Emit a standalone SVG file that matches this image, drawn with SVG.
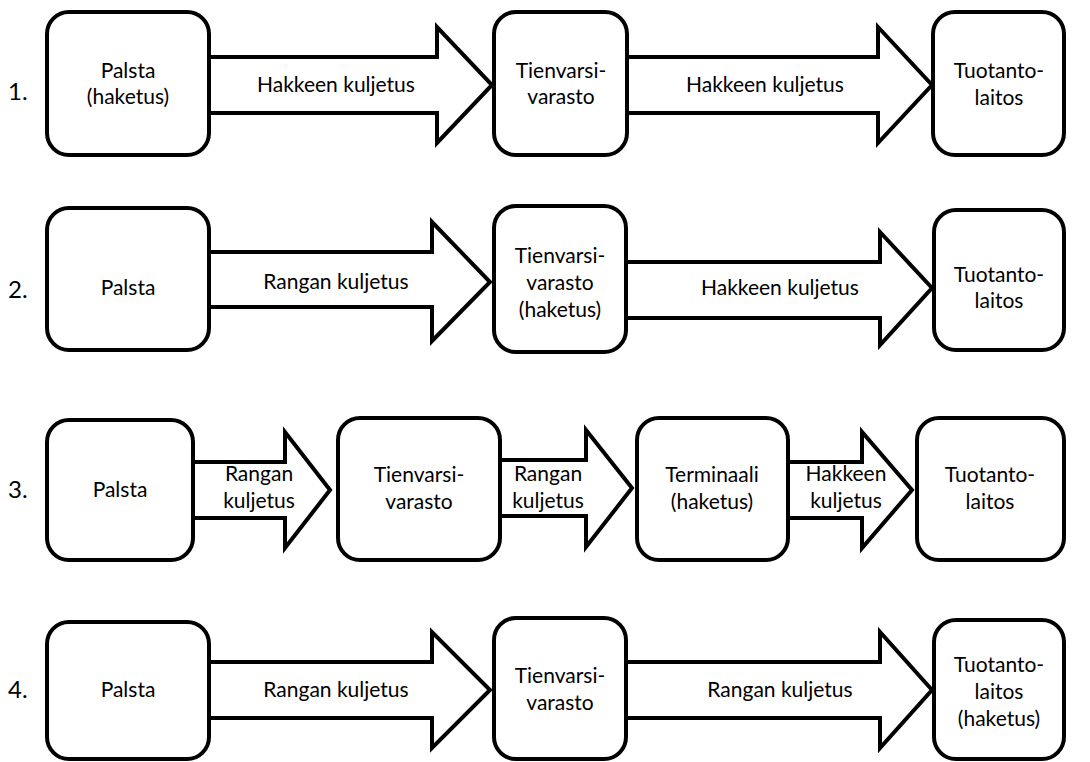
<svg xmlns="http://www.w3.org/2000/svg" width="1090" height="762" viewBox="0 0 1090 762">
<style>
.box{fill:#fff;stroke:#000;stroke-width:4}
.arr{fill:#fff;stroke:#000;stroke-width:4;stroke-linejoin:miter}
text{font-family:Lato,"Liberation Sans",sans-serif;font-size:21px;fill:#000;text-anchor:middle}
.num{text-anchor:start;font-size:24px}
</style>
<rect width="1090" height="762" fill="#fff"/>
<g id="connectors">
<polygon class="arr" points="209,57 437,57 437,27 492,85 437,143 437,113 209,113"/>
<polygon class="arr" points="627,57 878,57 878,27 932,85 878,143 878,113 627,113"/>
<polygon class="arr" points="209,252 432,252 432,222 490,282 432,341 432,307 209,307"/>
<polygon class="arr" points="626,262 880,262 880,232 932,288 880,345 880,318 626,318"/>
<polygon class="arr" points="193,462 285,462 285,432 330,490 285,548 285,518 193,518"/>
<polygon class="arr" points="500,460 586,460 586,430 632,488 586,547 586,516 500,516"/>
<polygon class="arr" points="788,462 862,462 862,432 912,490 862,548 862,518 788,518"/>
<polygon class="arr" points="209,662 432,662 432,632 490,690 432,748 432,718 209,718"/>
<polygon class="arr" points="626,662 880,662 880,632 932,690 880,748 880,718 626,718"/>
<text x="336" y="92">Hakkeen kuljetus</text>
<text x="765" y="92">Hakkeen kuljetus</text>
<text x="336" y="289">Rangan kuljetus</text>
<text x="780" y="295">Hakkeen kuljetus</text>
<text x="259" y="481">Rangan</text><text x="259" y="508">kuljetus</text>
<text x="548" y="481">Rangan</text><text x="548" y="508">kuljetus</text>
<text x="846" y="481">Hakkeen</text><text x="846" y="508">kuljetus</text>
<text x="336" y="697">Rangan kuljetus</text>
<text x="780" y="697">Rangan kuljetus</text>
</g>
<g id="labels">
<text class="num" x="8" y="100">1.</text>
<text class="num" x="8" y="298">2.</text>
<text class="num" x="8" y="498">3.</text>
<text class="num" x="8" y="698">4.</text>
</g>
<g id="r1-palsta"><rect class="box" x="47" y="12" width="162" height="143" rx="22"/><text x="128" y="78">Palsta</text><text x="128" y="104">(haketus)</text></g>
<g id="r1-tienvarsi"><rect class="box" x="494" y="12" width="133" height="143" rx="22"/><text x="561" y="78">Tienvarsi-</text><text x="561" y="104">varasto</text></g>
<g id="r1-tuotanto"><rect class="box" x="933" y="12" width="131" height="143" rx="22"/><text x="999" y="78">Tuotanto-</text><text x="999" y="105">laitos</text></g>
<g id="r2-palsta"><rect class="box" x="47" y="208" width="162" height="142" rx="22"/><text x="128" y="295">Palsta</text></g>
<g id="r2-tienvarsi"><rect class="box" x="494" y="206" width="132" height="146" rx="22"/><text x="560" y="263">Tienvarsi-</text><text x="560" y="290">varasto</text><text x="560" y="317">(haketus)</text></g>
<g id="r2-tuotanto"><rect class="box" x="934" y="210" width="130" height="140" rx="22"/><text x="999" y="282">Tuotanto-</text><text x="999" y="308">laitos</text></g>
<g id="r3-palsta"><rect class="box" x="47" y="420" width="146" height="140" rx="22"/><text x="120" y="497">Palsta</text></g>
<g id="r3-tienvarsi"><rect class="box" x="338" y="418" width="162" height="142" rx="22"/><text x="419" y="482">Tienvarsi-</text><text x="419" y="509">varasto</text></g>
<g id="r3-terminaali"><rect class="box" x="637" y="418" width="151" height="142" rx="22"/><text x="712" y="482">Terminaali</text><text x="712" y="509">(haketus)</text></g>
<g id="r3-tuotanto"><rect class="box" x="917" y="418" width="147" height="142" rx="22"/><text x="990" y="482">Tuotanto-</text><text x="990" y="509">laitos</text></g>
<g id="r4-palsta"><rect class="box" x="47" y="622" width="162" height="137" rx="22"/><text x="128" y="697">Palsta</text></g>
<g id="r4-tienvarsi"><rect class="box" x="494" y="618" width="132" height="141" rx="22"/><text x="560" y="683">Tienvarsi-</text><text x="560" y="710">varasto</text></g>
<g id="r4-tuotanto"><rect class="box" x="934" y="620" width="130" height="139" rx="22"/><text x="999" y="672">Tuotanto-</text><text x="999" y="699">laitos</text><text x="999" y="726">(haketus)</text></g>
</svg>
